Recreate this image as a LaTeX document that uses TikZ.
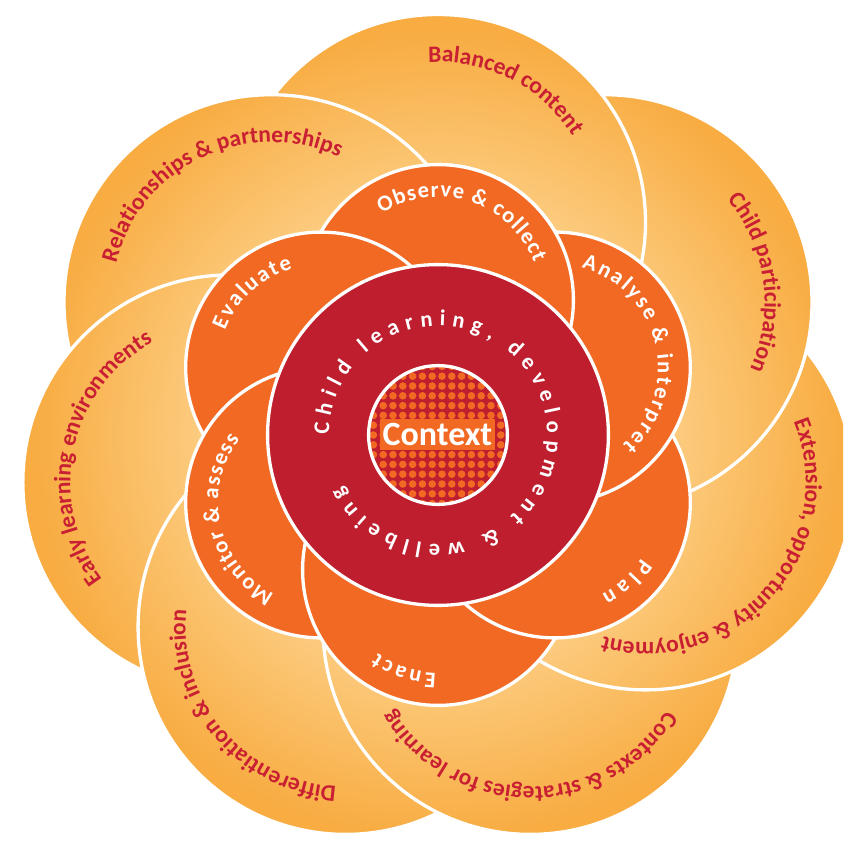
\documentclass[tikz,border=0pt]{standalone}
\usepackage{fontspec}
\setmainfont{Carlito}
\usetikzlibrary{decorations.text}
\definecolor{petallight}{HTML}{FCCB7E}
\definecolor{petaldark}{HTML}{F8AC42}
\definecolor{innerorange}{HTML}{F26924}
\definecolor{ringred}{HTML}{BE1E2D}
\definecolor{lblred}{HTML}{C91F32}
\pgfdeclareradialshading{petalshade}{\pgfpoint{0bp}{0bp}}{color(0bp)=(petallight); color(13.5bp)=(petallight); color(23bp)=(petaldark); color(50bp)=(petaldark)}
\newcommand\outerfmt{\fontsize{23.5}{28}\selectfont\bfseries\color{lblred}}
\newcommand\innerfmt{\fontsize{22.5}{26}\selectfont\bfseries\color{white}}
\newcommand\ringfmt{\fontsize{22.5}{26}\selectfont\bfseries\color{white}}
\tikzset{
  petalborder/.style={draw=white, line width=3.3pt},
  innerpetal/.style={fill=innerorange, draw=white, line width=3.3pt},
  outerlabel/.style={decorate, decoration={text along path, text align=center, text={|\outerfmt|#1}}},
  innerlabel/.style={decorate, decoration={text along path, text align=fit to path, text={|\innerfmt|#1}}},
  ringlabel/.style={decorate, decoration={text along path, text align=fit to path, text={|\ringfmt|#1}}},
  ctxbox/.style={fill=innerorange, minimum width=115pt, minimum height=31pt, inner sep=0pt, text=white, font=\fontsize{34}{34}\selectfont\bfseries},
}
\newcommand\OuterPetal[1]{%
  \begin{scope}
    \clip (#1:213pt) circle (207.5pt);
    \shade[shading=petalshade] (0pt,0pt) circle (440pt);
  \end{scope}
  \draw[petalborder] (#1:213pt) circle (207.5pt);
}
\newcommand\InnerPetal[1]{\draw[innerpetal] (#1:135pt) circle (135.4pt);}
\newcommand\OuterLabel[3]{\path[outerlabel={#3}] ([shift={(#1:213pt)}]{#2+95}:160pt) arc[start angle={#2+95}, end angle={#2-95}, radius=160pt];}
\newcommand\InnerLabel[4]{\path[innerlabel={#4}] ([shift={(#1:135pt)}]{#2}:103pt) arc[start angle={#2}, end angle={#3}, radius=103pt];}
\begin{document}
\begin{tikzpicture}
\useasboundingbox (-438pt,-408pt) rectangle (405pt,435pt);
\clip (-438pt,-408pt) rectangle (405pt,435pt);
% outer petals (cyclic overlap)
\OuterPetal{90}
\OuterPetal{141.4286}
\OuterPetal{-167.1429}
\OuterPetal{-115.7143}
\OuterPetal{-64.2857}
\OuterPetal{-12.8571}
\OuterPetal{38.5714}
\begin{scope}
  \clip (0pt,0pt) rectangle (420pt,440pt);
  \OuterPetal{90}
\end{scope}
% inner petals (cyclic overlap)
\InnerPetal{90}
\InnerPetal{150}
\InnerPetal{-150}
\InnerPetal{-90}
\InnerPetal{-30}
\InnerPetal{30}
\begin{scope}
  \clip (0pt,-10pt) rectangle (300pt,300pt);
  \InnerPetal{90}
\end{scope}
% red ring
\draw[fill=ringred, draw=white, line width=3.3pt] (0pt,0pt) circle (170.4pt);
\path[ringlabel={Child learning, development {\&} wellbeing}] (180:109pt) arc[start angle=180, end angle=-152, radius=109pt];
% context
\begin{scope}[x=1pt,y=1pt]
  \clip (0,0) circle (69.4);
  \fill[ringred] (-70,-70) rectangle (70,70);
  \foreach \i in {-8,...,8}{\foreach \j in {-8,...,8}{\fill[innerorange] ({4+9.8*\i},{9.8*\j}) circle (3.8);}}
\end{scope}
\draw[white, line width=3.3pt] (0pt,0pt) circle (69.4pt);
\node[ctxbox] (ctx) at (-0.5pt,0.5pt) {Context};
% labels
\OuterLabel{90}{63}{Balanced content}
\OuterLabel{38.5714}{7.5}{Child participation}
\OuterLabel{-12.8571}{-41.5}{Extension, opportunity {\&} enjoyment}
\OuterLabel{-64.2857}{-90.3}{Contexts {\&} strategies for learning}
\OuterLabel{-115.7143}{-139.7}{Differentiation {\&} inclusion}
\OuterLabel{-167.1429}{168}{Early learning environments}
\OuterLabel{141.4286}{115.5}{Relationships {\&} partnerships}
\InnerLabel{90}{123}{21}{Observe {\&} collect}
\InnerLabel{30}{75}{-49}{Analyse {\&} interpret}
\InnerLabel{-30}{-33}{-63}{Plan}
\InnerLabel{-90}{-91}{-126}{Enact}
\InnerLabel{-150}{-117}{-218}{Monitor {\&} assess}
\InnerLabel{150}{159}{106}{Evaluate}
\end{tikzpicture}
\end{document}
